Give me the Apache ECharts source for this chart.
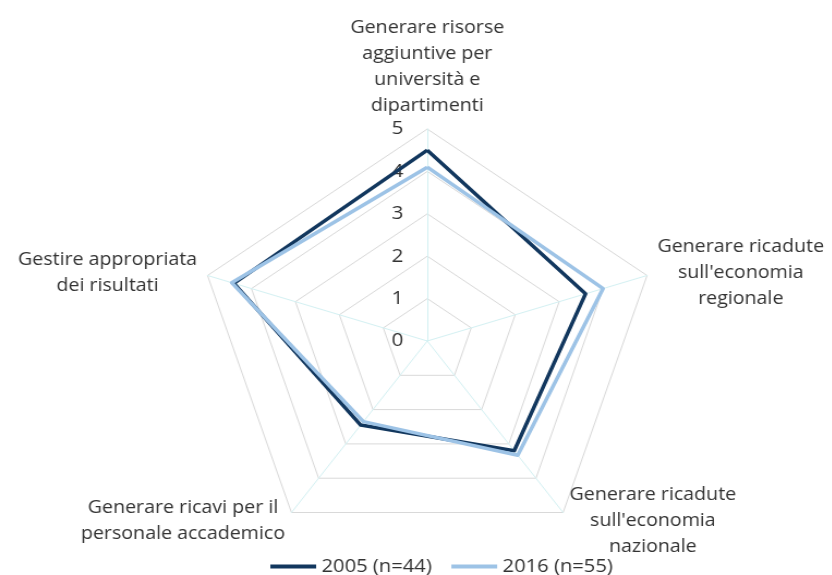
<!DOCTYPE html>
<html>
<head>
<meta charset="utf-8">
<script src="https://cdn.jsdelivr.net/npm/echarts@6/dist/echarts.min.js"></script>
<style>
  html, body { margin: 0; padding: 0; background: #fff; overflow: hidden; }
  /* il grafico originale è leggermente allargato in orizzontale */
  #chart { width: 763px; height: 575px; transform: scaleX(1.09); transform-origin: 0 0; }
</style>
</head>
<body>
<div id="chart"></div>
<script>
// assi (ordine antiorario a partire dall'alto)
const indicatori = [
  "Generare risorse\naggiuntive per\nuniversità e\ndipartimenti",
  "Gestire appropriata\ndei risultati",
  "Generare ricavi per il\npersonale accademico",
  "Generare ricadute\nsull'economia\nnazionale",
  "Generare ricadute\nsull'economia\nregionale"
];
const valori2005 = [4.5, 4.4, 2.45, 3.2, 3.6];
const valori2016 = [4.1, 4.45, 2.35, 3.33, 4.0];
const serieNomi = ["2005 (n=44)", "2016 (n=55)"];
const colori = ["#12375e", "#9dc3e6"];

let myChart = echarts.init(document.getElementById("chart"));
const font = "Open Sans";
const testo = "#333333";

let option = {
  backgroundColor: "#fff",
  animation: false,
  legend: {
    left: 243,
    top: 552,
    icon: "rect",
    itemWidth: 42,
    itemHeight: 4,
    itemGap: 18,
    textStyle: { fontFamily: font, fontSize: 18.5, color: testo },
    data: serieNomi
  },
  radar: {
    center: [392, 341],
    radius: 212,
    startAngle: 90,
    splitNumber: 5,
    shape: "polygon",
    indicator: indicatori.map((n, i) => {
      let ind = { name: n, min: 0, max: 5 };
      if (i === 0) {
        ind.axisLabel = {
          show: true,
          margin: 22,
          fontFamily: font,
          fontSize: 19,
          color: testo
        };
      }
      return ind;
    }),
    axisName: {
      formatter: (name) => name.split("\n").map((s) => "{c|" + s + "}").join("\n"),
      rich: {
        c: { align: "center", fontFamily: font, fontSize: 18, lineHeight: 26, color: testo }
      }
    },
    nameGap: 10,
    axisLine: { lineStyle: { color: "#d4f1f3", width: 1 } },
    axisTick: { show: false },
    axisLabel: { show: false },
    splitLine: { lineStyle: { color: "#d9d9d9", width: 1 } },
    splitArea: { show: false }
  },
  series: [
    {
      type: "radar",
      symbol: "none",
      data: [
        {
          name: serieNomi[0],
          value: valori2005,
          lineStyle: { color: colori[0], width: 3.5 },
          itemStyle: { color: colori[0] }
        },
        {
          name: serieNomi[1],
          value: valori2016,
          lineStyle: { color: colori[1], width: 3.5 },
          itemStyle: { color: colori[1] }
        }
      ]
    }
  ]
};
myChart.setOption(option);
</script>
</body>
</html>
